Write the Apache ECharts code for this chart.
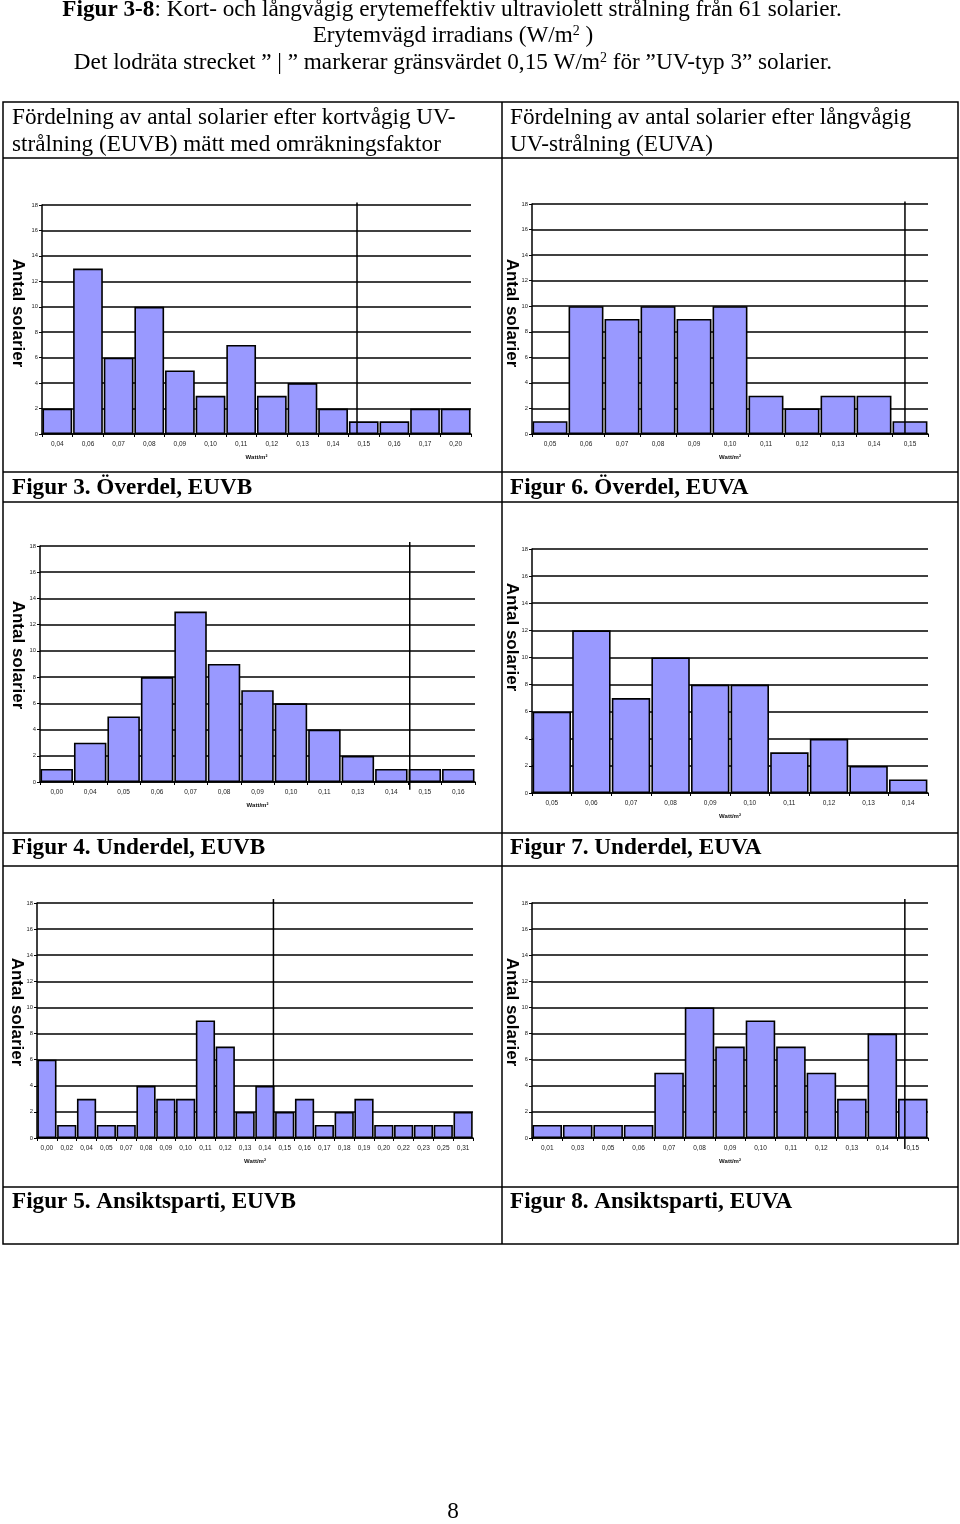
<!DOCTYPE html>
<html><head><meta charset="utf-8">
<script src="https://cdn.jsdelivr.net/npm/echarts@6/dist/echarts.min.js"></script>
<style>html,body{margin:0;padding:0;background:#fff}#c{width:960px;height:1524px}</style>
</head><body><div id="c"></div><script>
// ---- DATA ----
const catsFig3 = ['0,04','0,06','0,07','0,08','0,09','0,10','0,11','0,12','0,13','0,14','0,15','0,16','0,17','0,20'];
const valsFig3 = [2,13,6,10,5,3,7,3,4,2,1,1,2,2];
const catsFig6 = ['0,05','0,06','0,07','0,08','0,09','0,10','0,11','0,12','0,13','0,14','0,15'];
const valsFig6 = [1,10,9,10,9,10,3,2,3,3,1];
const catsFig4 = ['0,00','0,04','0,05','0,06','0,07','0,08','0,09','0,10','0,11','0,13','0,14','0,15','0,16'];
const valsFig4 = [1,3,5,8,13,9,7,6,4,2,1,1,1];
const catsFig7 = ['0,05','0,06','0,07','0,08','0,09','0,10','0,11','0,12','0,13','0,14'];
const valsFig7 = [6,12,7,10,8,8,3,4,2,1];
const catsFig5 = ['0,00','0,02','0,04','0,05','0,07','0,08','0,09','0,10','0,11','0,12','0,13','0,14','0,15','0,16','0,17','0,18','0,19','0,20','0,22','0,23','0,25','0,31'];
const valsFig5 = [6,1,3,1,1,4,3,3,9,7,2,4,2,3,1,2,3,1,1,1,1,2];
const catsFig8 = ['0,01','0,03','0,05','0,06','0,07','0,08','0,09','0,10','0,11','0,12','0,13','0,14','0,15'];
const valsFig8 = [1,1,1,1,5,10,7,9,7,5,3,8,3];
// position of the 0,15 W/m2 limit line, in category-index units from the left edge
const limitFig3 = 10.28, limitFig6 = 10.36, limitFig4 = 11.05, limitFig7 = null, limitFig5 = 11.93, limitFig8 = 12.24;
const yTicksMax = 18, yTickStep = 2;

const yName = 'Antal solarier';
const xName = 'Watt/m²';
const captions = ['Figur 3. Överdel, EUVB','Figur 6. Överdel, EUVA','Figur 4. Underdel, EUVB','Figur 7. Underdel, EUVA','Figur 5. Ansiktsparti, EUVB','Figur 8. Ansiktsparti, EUVA'];

// ---- LAYOUT ----
const panels = [
  {cats:catsFig3, vals:valsFig3, lim:limitFig3, g:{left:42, top:205, width:429, height:229}, nx:18, ny:313, lt:18.2, lb:0},
  {cats:catsFig6, vals:valsFig6, lim:limitFig6, g:{left:532, top:204, width:396, height:230}, nx:512, ny:313, lt:18.2, lb:0},
  {cats:catsFig4, vals:valsFig4, lim:limitFig4, g:{left:40, top:546, width:435, height:236}, nx:18, ny:655, lt:18.3, lb:-0.6},
  {cats:catsFig7, vals:valsFig7, lim:limitFig7, g:{left:532, top:549, width:396, height:244}, nx:512, ny:637, lt:18.3, lb:0},
  {cats:catsFig5, vals:valsFig5, lim:limitFig5, g:{left:37, top:903, width:436, height:235}, nx:17, ny:1012, lt:18.3, lb:0},
  {cats:catsFig8, vals:valsFig8, lim:limitFig8, g:{left:532, top:903, width:396, height:235}, nx:512, ny:1012, lt:18.3, lb:-0.84}
];
const captionPos = [[12,488],[510,488],[12,848],[510,848],[12,1202],[510,1202]];

const SANS = '"Liberation Sans", Arial, sans-serif';
const SERIF = '"Liberation Serif", "Times New Roman", serif';
const grids = [], xAxes = [], yAxes = [], series = [], graphic = [];

panels.forEach((p, i) => {
  grids.push(Object.assign({containLabel:false}, p.g));
  xAxes.push({
    type:'category', gridIndex:i, data:p.cats,
    axisLine:{lineStyle:{color:'#000', width:1.5}},
    axisTick:{show:true, length:3, lineStyle:{color:'#000', width:1}},
    axisLabel:{fontSize:6.5, color:'#222', margin:7, interval:0, fontFamily:SANS},
    name:xName, nameLocation:'middle', nameGap:20,
    nameTextStyle:{fontSize:6, fontWeight:'bold', color:'#111', fontFamily:SANS},
    splitLine:{show:false}
  });
  xAxes.push({type:'value', gridIndex:i, min:0, max:p.cats.length, show:false});
  yAxes.push({
    type:'value', gridIndex:i, min:0, max:yTicksMax, interval:yTickStep,
    axisLine:{show:true, lineStyle:{color:'#000', width:1.5}},
    axisTick:{show:true, length:3, lineStyle:{color:'#000'}},
    axisLabel:{fontSize:5.8, color:'#222', margin:4, fontFamily:SANS},
    splitLine:{show:true, lineStyle:{color:'#000', width:1.5}}
  });
  series.push({
    type:'bar', xAxisIndex:2*i, yAxisIndex:i, data:p.vals,
    barCategoryGap:'3%',
    itemStyle:{color:'#9999ff', borderColor:'#000', borderWidth:1.6},
    z:2, silent:true
  });
  if (p.lim !== null) {
    series.push({
      type:'line', xAxisIndex:2*i+1, yAxisIndex:i,
      data:[[p.lim, p.lb],[p.lim, p.lt]], symbol:'none', clip:false,
      lineStyle:{color:'#000', width:1.5}, z:4, silent:true
    });
  }
  graphic.push({type:'text', x:p.nx, y:p.ny, rotation:-Math.PI/2,
    style:{text:yName, font:'bold 17px ' + SANS, fill:'#000', align:'center', verticalAlign:'middle'}});
});

// titles
const FS = 23.2;
const tFont = FS + 'px ' + SERIF;
const bFont = 'bold ' + FS + 'px ' + SERIF;
const supFont = '14px ' + SERIF;
graphic.push({type:'text', x:452, y:10, style:{text:'{b|Figur 3-8}: Kort- och långvågig erytemeffektiv ultraviolett strålning från 61 solarier.',
  font:tFont, fill:'#000', align:'center', verticalAlign:'middle', rich:{b:{font:bFont}}}});
graphic.push({type:'text', x:453, y:36, style:{text:'Erytemvägd irradians (W/m{s|2} )',
  font:tFont, fill:'#000', align:'center', verticalAlign:'middle', rich:{s:{font:supFont, padding:[0,0,9,0]}}}});
graphic.push({type:'text', x:453, y:63, style:{text:'Det lodräta strecket ” | ” markerar gränsvärdet 0,15 W/m{s|2} för ”UV-typ 3” solarier.',
  font:tFont, fill:'#000', align:'center', verticalAlign:'middle', rich:{s:{font:supFont, padding:[0,0,9,0]}}}});

// table
const L = 3, R = 958, T = 102, B = 1244, M = 502;
const lineStyle = {stroke:'#000', lineWidth:1.5};
graphic.push({type:'rect', shape:{x:L, y:T, width:R-L, height:B-T}, style:{fill:null, stroke:'#000', lineWidth:1.5}});
graphic.push({type:'line', shape:{x1:M, y1:T, x2:M, y2:B}, style:lineStyle});
[158, 472, 502, 833, 866, 1187].forEach(y => graphic.push({type:'line', shape:{x1:L, y1:y, x2:R, y2:y}, style:lineStyle}));

// header texts
[['Fördelning av antal solarier efter kortvågig UV-', 12, 118], ['strålning (EUVB) mätt med omräkningsfaktor', 12, 145],
 ['Fördelning av antal solarier efter långvågig', 510, 118], ['UV-strålning (EUVA)', 510, 145]].forEach(t =>
  graphic.push({type:'text', x:t[1], y:t[2], style:{text:t[0], font:tFont, fill:'#000', align:'left', verticalAlign:'middle'}}));

captions.forEach((c, i) => graphic.push({type:'text', x:captionPos[i][0], y:captionPos[i][1],
  style:{text:c, font:bFont, fill:'#000', align:'left', verticalAlign:'middle'}}));

graphic.push({type:'text', x:453, y:1512, style:{text:'8', font:tFont, fill:'#000', align:'center', verticalAlign:'middle'}});

const chart = echarts.init(document.getElementById('c'), null, {renderer:'canvas'});
chart.setOption({animation:false, backgroundColor:'#fff', grid:grids, xAxis:xAxes, yAxis:yAxes, series:series, graphic:graphic});
</script></body></html>
